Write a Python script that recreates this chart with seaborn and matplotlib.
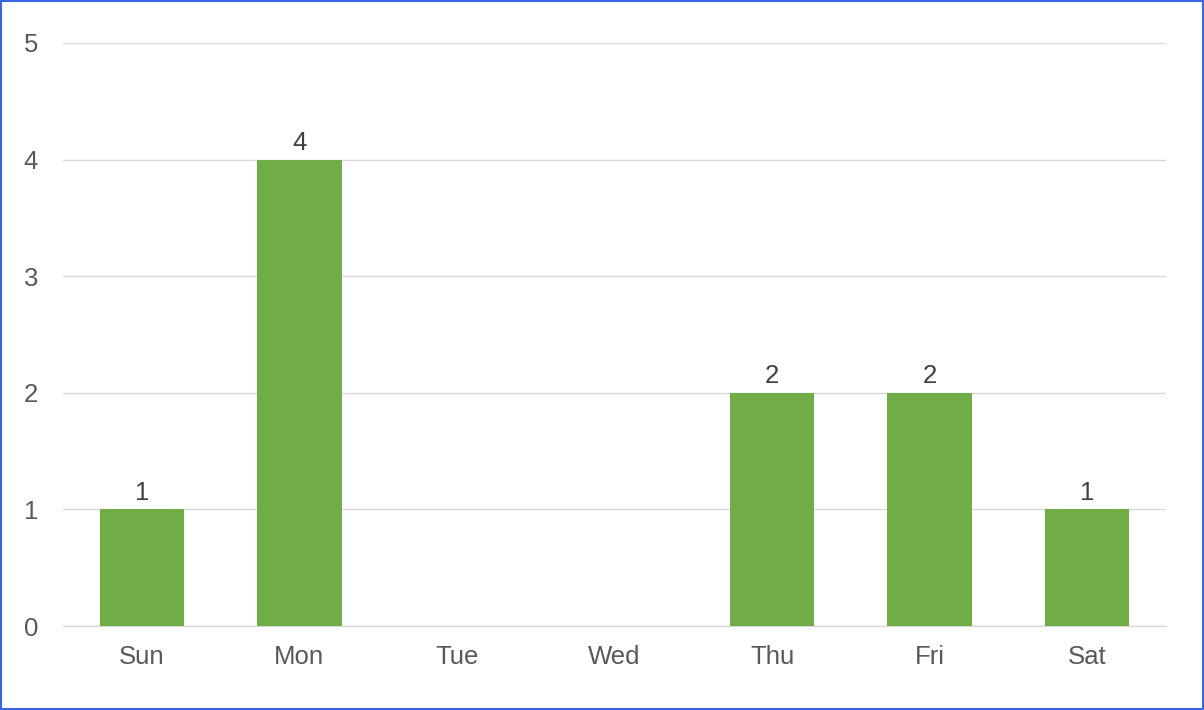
import pandas as pd
import seaborn as sns
import matplotlib.pyplot as plt
from matplotlib.patches import Rectangle

# data
days = ["Sun", "Mon", "Tue", "Wed", "Thu", "Fri", "Sat"]
counts = [1, 4, 0, 0, 2, 2, 1]

df = pd.DataFrame({"day": days, "count": counts})

sns.set_theme(style="white")
plt.rcParams["font.family"] = ["Liberation Sans", "DejaVu Sans"]

fig = plt.figure(figsize=(12.04, 7.10), dpi=100)
ax = fig.add_axes([63 / 1204, 84 / 710, 1103 / 1204, 583 / 710])

sns.barplot(data=df, x="day", y="count", color="#70AD47", width=0.535,
            saturation=1, linewidth=0, ax=ax, zorder=3)

ax.set_ylim(0, 5)
ax.set_xlim(-0.5, 6.5)
ax.set_yticks(range(0, 6))
ax.grid(axis="y", color="#D9D9D9", linewidth=1, zorder=0)
ax.axhline(0, color="#D9D9D9", linewidth=1, zorder=2, clip_on=False)
ax.set_xlabel("")
ax.set_ylabel("")
for s in ax.spines.values():
    s.set_visible(False)
ax.tick_params(axis="both", length=0, labelsize=18.5, colors="#595959")
ax.tick_params(axis="y", pad=18)
ax.tick_params(axis="x", pad=14)

# data labels on non-zero bars
for i, v in enumerate(counts):
    if v > 0:
        ax.text(i, v + 0.04, str(v), ha="center", va="bottom",
                fontsize=18.5, color="#404040")

# blue border around the chart
fig.patches.append(Rectangle((0.0008, 0.0012), 0.9984, 0.9976, transform=fig.transFigure,
                             fill=False, edgecolor="#3C64E6", linewidth=1.5))

plt.savefig("out.png", dpi=100)
